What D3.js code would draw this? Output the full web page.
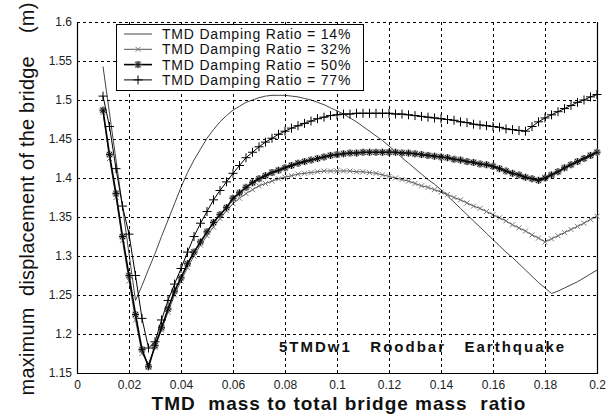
<!DOCTYPE html>
<html><head><meta charset="utf-8">
<script src="https://cdn.jsdelivr.net/npm/d3@7"></script>
</head>
<body style="margin:0;background:#fff"><svg id="c" width="616" height="416" style="font-family:'Liberation Sans',Arial,sans-serif"></svg>
<script>
const massRatio = [0.01,0.0125,0.015,0.0175,0.02,0.0225,0.025,0.0275,0.03,0.0325,
0.035,0.0375,0.04,0.0425,0.045,0.0475,0.05,0.0525,0.055,0.0575,
0.06,0.0625,0.065,0.0675,0.07,0.0725,0.075,0.0775,0.08,0.0825,
0.085,0.0875,0.09,0.0925,0.095,0.0975,0.1,0.1025,0.105,0.1075,
0.11,0.1125,0.115,0.1175,0.12,0.1225,0.125,0.1275,0.13,0.1325,
0.135,0.1375,0.14,0.1425,0.145,0.1475,0.15,0.1525,0.155,0.1575,
0.16,0.1625,0.165,0.1675,0.17,0.1725,0.175,0.1775,0.18,0.1825,
0.185,0.1875,0.19,0.1925,0.195,0.1975,0.2];

const damp14 = [1.543,1.483,1.423,1.363,1.303,1.243,1.262,1.283,1.303,1.325,
1.346,1.367,1.388,1.407,1.423,1.437,1.451,1.462,1.472,1.48,
1.487,1.492,1.497,1.5,1.503,1.505,1.506,1.506,1.506,1.505,
1.504,1.502,1.5,1.497,1.494,1.49,1.486,1.482,1.477,1.472,
1.466,1.46,1.454,1.448,1.441,1.434,1.426,1.419,1.412,1.405,
1.398,1.392,1.385,1.377,1.369,1.361,1.353,1.345,1.337,1.329,
1.321,1.313,1.305,1.298,1.29,1.282,1.274,1.266,1.259,1.252,
1.255,1.259,1.263,1.267,1.272,1.277,1.282];

const damp32 = [1.484,1.425,1.375,1.32,1.268,1.218,1.175,1.162,1.183,1.205,
1.228,1.25,1.268,1.285,1.3,1.314,1.326,1.337,1.348,1.358,
1.367,1.374,1.38,1.385,1.39,1.393,1.396,1.399,1.401,1.403,
1.405,1.406,1.407,1.408,1.409,1.409,1.409,1.409,1.409,1.408,
1.408,1.407,1.406,1.404,1.402,1.4,1.398,1.396,1.393,1.39,
1.388,1.385,1.382,1.379,1.375,1.372,1.368,1.364,1.361,1.357,
1.353,1.349,1.345,1.34,1.336,1.332,1.327,1.323,1.318,1.322,
1.326,1.33,1.334,1.338,1.342,1.347,1.351];

const damp50 = [1.487,1.43,1.38,1.325,1.275,1.225,1.18,1.158,1.185,1.208,
1.232,1.255,1.272,1.29,1.305,1.318,1.331,1.343,1.353,1.362,
1.374,1.381,1.388,1.394,1.399,1.403,1.407,1.41,1.413,1.416,
1.419,1.421,1.423,1.425,1.427,1.429,1.43,1.431,1.432,1.432,
1.433,1.433,1.433,1.433,1.433,1.433,1.432,1.432,1.431,1.43,
1.429,1.428,1.427,1.426,1.424,1.423,1.421,1.42,1.418,1.417,
1.415,1.412,1.409,1.406,1.404,1.401,1.399,1.397,1.4,1.404,
1.408,1.413,1.417,1.421,1.425,1.429,1.433];

const damp77 = [1.505,1.466,1.412,1.364,1.328,1.275,1.22,1.182,1.19,1.218,
1.243,1.264,1.284,1.305,1.325,1.342,1.357,1.372,1.384,1.395,
1.406,1.416,1.426,1.433,1.44,1.446,1.451,1.456,1.46,1.464,
1.467,1.47,1.473,1.476,1.478,1.48,1.481,1.482,1.482,1.483,
1.483,1.483,1.483,1.483,1.483,1.482,1.482,1.481,1.48,1.479,
1.478,1.477,1.476,1.475,1.474,1.472,1.471,1.469,1.468,1.467,
1.466,1.465,1.463,1.462,1.461,1.46,1.466,1.472,1.477,1.481,
1.485,1.489,1.493,1.497,1.5,1.504,1.507];

const seriesNames = ["TMD Damping Ratio = 14%","TMD Damping Ratio = 32%","TMD Damping Ratio = 50%","TMD Damping Ratio = 77%"];
const xTicks = [0,0.02,0.04,0.06,0.08,0.1,0.12,0.14,0.16,0.18,0.2];
const xTickLabels = ["0","0.02","0.04","0.06","0.08","0.1","0.12","0.14","0.16","0.18","0.2"];
const yTicks = [1.15,1.2,1.25,1.3,1.35,1.4,1.45,1.5,1.55,1.6];
const yTickLabels = ["1.15","1.2","1.25","1.3","1.35","1.4","1.45","1.5","1.55","1.6"];
const xTitle = "TMD\u00a0\u00a0mass to total bridge mass\u00a0\u00a0ratio";
const yTitle = "maximum\u00a0\u00a0displacement of the bridge\u00a0\u00a0\u00a0\u00a0(m)";
const note = "5TMDw1\u00a0\u00a0\u00a0Roodbar\u00a0\u00a0\u00a0Earthquake";

const svg = d3.select("#c");
const L = 77, R = 597, T = 22, B = 373;
const x = d3.scaleLinear().domain([0,0.2]).range([L,R]);
const y = d3.scaleLinear().domain([1.15,1.6]).range([B,T]);

// axes (labels only)
const xa = svg.append("g").attr("transform",`translate(0,${B})`)
  .call(d3.axisBottom(x).tickValues(xTicks).tickSize(0).tickPadding(7).tickFormat((d,i)=>xTickLabels[i]));
const ya = svg.append("g").attr("transform",`translate(${L},0)`)
  .call(d3.axisLeft(y).tickValues(yTicks).tickSize(0).tickPadding(5).tickFormat((d,i)=>yTickLabels[i]));
[xa,ya].forEach(a=>{a.select(".domain").remove();
  a.selectAll("text").attr("font-family","Liberation Sans, Arial, sans-serif").attr("font-size",12).attr("fill","#222");});

// box: left, bottom, right solid
svg.append("path").attr("d",`M${L+0.5},${T}V${B+0.5}H${R+0.5}V${T}`).attr("fill","none").attr("stroke","#000").attr("stroke-width",1.2);

// series
const mk = {
  plus:"M-4.5,0H4.5M0,-4.5V4.5",
  cross:"M-2.5,-2.5L2.5,2.5M-2.5,2.5L2.5,-2.5",
  star:"M-3.5,0H3.5M0,-3.5V3.5M-2.6,-2.6L2.6,2.6M-2.6,2.6L2.6,-2.6"
};
const series = [
  {vals:damp14, color:"#444", w:1, marker:null, mcolor:null},
  {vals:damp32, color:"#555", w:1, marker:"cross", mcolor:"#777"},
  {vals:damp50, color:"#000", w:1.6, marker:"star", mcolor:"#111"},
  {vals:damp77, color:"#000", w:1, marker:"plus", mcolor:"#000"}
];
const line = d3.line().x(d=>x(d[0])).y(d=>y(d[1]));
const plot = svg.append("g");
series.forEach(s=>{
  const pts = massRatio.map((m,i)=>[m,s.vals[i]]);
  if (s.marker==="star") {
    plot.append("g").selectAll("path").data(pts).join("path")
      .attr("transform",d=>`translate(${x(d[0])},${y(d[1])})`)
      .attr("d",mk.star).attr("stroke","#aaa").attr("stroke-width",2.6).attr("fill","none");
  }
  plot.append("path").datum(pts).attr("d",line).attr("fill","none")
    .attr("stroke",s.color).attr("stroke-width",s.w);
  if (s.marker) {
    plot.append("g").selectAll("path").data(pts).join("path")
      .attr("transform",d=>`translate(${x(d[0])},${y(d[1])})`)
      .attr("d",mk[s.marker]).attr("stroke",s.mcolor).attr("stroke-width",1).attr("fill","none");
  }
});

// dashed grid, drawn as small filled dash rectangles
const gridG = svg.append("g").attr("fill","#000");
xTicks.slice(1,10).forEach(v=>{
  const px = Math.round(x(v));
  gridG.append("g").selectAll("rect").data(d3.range(T, B, 6)).join("rect")
    .attr("x",px).attr("y",d=>d).attr("width",1).attr("height",d=>Math.min(3,B-d));
});
yTicks.slice(1).forEach(v=>{
  const py = Math.round(y(v));
  gridG.append("g").selectAll("rect").data(d3.range(L, R, 6)).join("rect")
    .attr("x",d=>d).attr("y",py).attr("width",d=>Math.min(3,R-d)).attr("height",1);
});

// legend
const lg = svg.append("g");
lg.append("rect").attr("x",116.5).attr("y",24.5).attr("width",247).attr("height",66)
  .attr("fill","#fff").attr("stroke","#000").attr("stroke-width",1);
series.forEach((s,i)=>{
  const yy = 34 + i*15.3;
  lg.append("line").attr("x1",124).attr("x2",152).attr("y1",yy).attr("y2",yy)
    .attr("stroke",s.color).attr("stroke-width",s.w);
  if (s.marker==="star") lg.append("path").attr("transform",`translate(138,${yy})`).attr("d",mk.star)
    .attr("stroke","#aaa").attr("stroke-width",2.6).attr("fill","none");
  if (s.marker) lg.append("path").attr("transform",`translate(138,${yy})`).attr("d",mk[s.marker])
    .attr("stroke",s.mcolor).attr("stroke-width",1).attr("fill","none");
  lg.append("text").attr("x",162).attr("y",yy+5).attr("font-size",14).attr("letter-spacing",0.8)
    .attr("fill","#111").text(seriesNames[i]);
});

// titles
svg.append("text").attr("x",(L+R)/2+2).attr("y",410).attr("text-anchor","middle")
  .attr("font-size",19).attr("font-weight","bold").attr("letter-spacing",1).attr("fill","#111").text(xTitle);
svg.append("text").attr("transform","translate(34,199) rotate(-90)").attr("text-anchor","middle")
  .attr("font-size",20).attr("letter-spacing",0.2).attr("fill","#111").text(yTitle);
svg.append("text").attr("x",279).attr("y",352).attr("font-size",15).attr("font-weight","bold")
  .attr("fill","#111").attr("letter-spacing",2).text(note);
</script></body></html>
